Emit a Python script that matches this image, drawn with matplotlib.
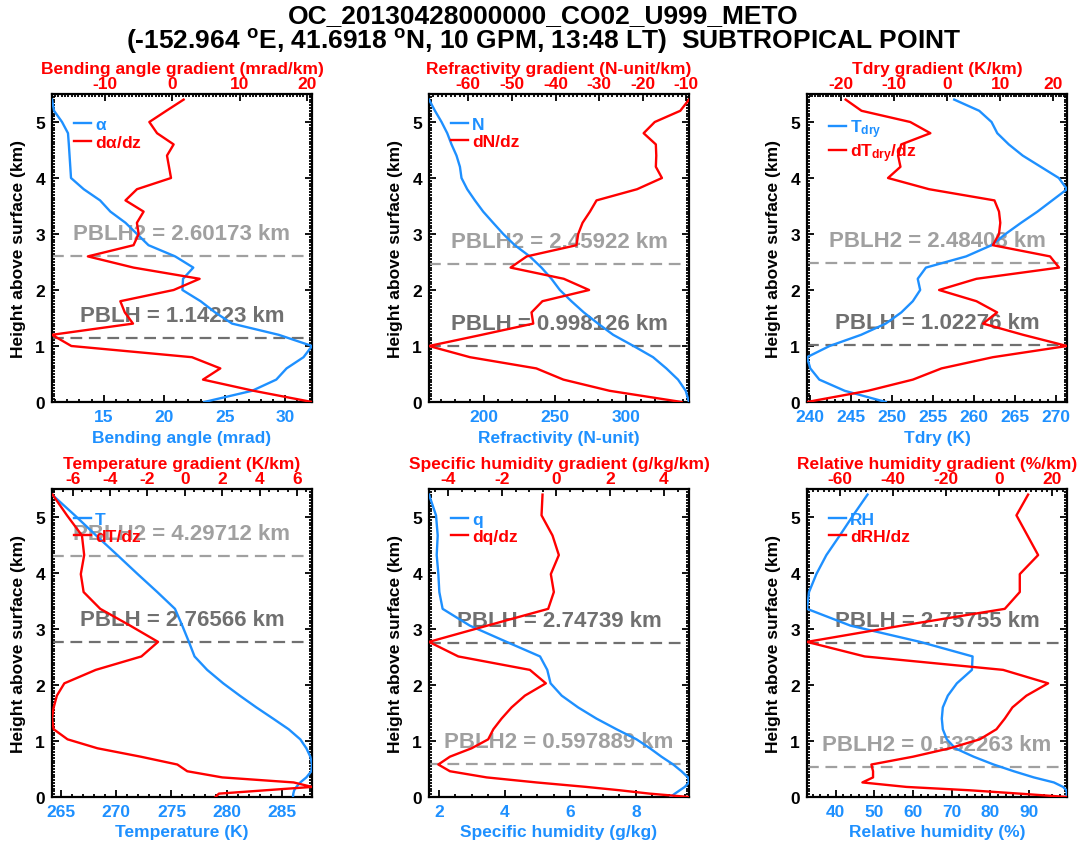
import numpy as np
import matplotlib
matplotlib.use("Agg")
import matplotlib.pyplot as plt
from matplotlib.ticker import MultipleLocator, AutoMinorLocator
import matplotlib.transforms as mtransforms

plt.rcParams['font.family'] = ['Liberation Sans', 'DejaVu Sans']
plt.rcParams['font.weight'] = 'bold'
plt.rcParams['axes.labelweight'] = 'bold'
plt.rcParams['axes.unicode_minus'] = False
plt.rcParams['mathtext.fontset'] = 'custom'
plt.rcParams['mathtext.rm'] = 'Liberation Sans:bold'
plt.rcParams['mathtext.bf'] = 'Liberation Sans:bold'
plt.rcParams['mathtext.it'] = 'Liberation Sans:bold'

BLUE = '#1E90FF'
RED = '#FF0000'
GRAY_PBLH = '#707070'
GRAY_PBLH2 = '#A0A0A0'

# ---------------- data ----------------
# regular 0.2 km grid used by the upper row (km above surface)
height_top = [5.4, 5.2, 5.0, 4.8, 4.6, 4.4, 4.2, 4.0, 3.8, 3.6, 3.4, 3.2, 3.0, 2.8,
              2.6, 2.4, 2.2, 2.0, 1.8, 1.6, 1.4, 1.2, 1.0, 0.8, 0.6, 0.4, 0.2, 0.0]
# model levels used by the lower row (km above surface)
height_bot = [5.40, 5.03, 4.67, 4.32, 3.98, 3.66, 3.36, 3.06, 2.77, 2.51, 2.27, 2.03,
              1.81, 1.60, 1.40, 1.21, 1.03, 0.87, 0.72, 0.58, 0.46, 0.35, 0.26, 0.18,
              0.12, 0.06, 0.0]

bending_angle = [10.73, 10.9, 11.56, 12.05, 12.12, 12.18, 12.24, 12.3, 13.35, 14.7,
                 15.55, 16.8, 17.75, 18.7, 20.9, 22.4, 21.55, 21.5, 23.0, 24.2, 25.6,
                 29.45, 32.2, 31.5, 30.1, 29.25, 27.25, 23.3]
bending_grad = [1.66, -0.92, -3.45, -2.3, 0.17, -0.82, -0.52, -0.22, -5.29, -7.0,
                -4.3, -5.3, -5.04, -5.8, -12.6, -5.8, 4.04, 0.17, -7.77, -7.1, -5.88,
                -17.94, -15.06, 2.9, 7.12, 4.54, 12.08, 20.77]

refractivity = [161.5, 165.7, 170.3, 174.3, 177.3, 180.8, 183.2, 184.3, 188.3, 193.7,
                199.5, 206.5, 213.6, 221.7, 232.2, 240.4, 247.4, 253.3, 261.4, 270.1,
                280.1, 290.7, 305.0, 318.7, 328.0, 336.2, 341.6, 343.9]
refractivity_grad = [-9.4, -11.4, -17.25, -19.8, -17.0, -16.9, -17.0, -15.6, -21.3,
                     -30.6, -32.1, -33.8, -34.8, -35.2, -46.6, -50.3, -38.1, -32.3,
                     -43.0, -45.5, -45.1, -56.9, -69.0, -59.6, -44.4, -38.2, -27.6,
                     -11.1]

tdry = [257.55, 260.6, 262.1, 262.8, 264.2, 265.9, 268.1, 270.3, 271.3, 269.5, 267.7,
        265.7, 263.8, 262.1, 259.0, 254.1, 253.1, 253.4, 252.5, 251.1, 249.2, 246.2,
        242.35, 239.6, 240.0, 241.1, 244.2, 249.2]
tdry_grad = [-19.2, -16.2, -7.0, -3.2, -8.7, -9.3, -8.85, -11.2, -3.45, 8.9, 9.76,
             10.0, 9.76, 8.6, 19.4, 21.1, 5.5, -1.56, 5.5, 9.4, 6.75, 14.3, 22.6, 8.6,
             -1.1, -6.5, -15.0, -26.5]

temperature = [264.2, 266.26, 268.19, 270.11, 271.95, 273.72, 275.32, 275.98, 276.58,
               277.09, 278.23, 279.68, 281.18, 282.68, 284.19, 285.60, 286.65, 287.20,
               287.56, 287.71, 287.65, 287.2, 286.65, 286.3, 286.1, 286.02, 285.99]
temperature_grad = [-7.07, -6.30, -5.50, -5.38, -5.56, -5.41, -4.52, -2.92, -1.43,
                    -2.32, -4.76, -6.44, -6.84, -7.01, -7.10, -7.01, -6.27, -4.67,
                    -2.36, -0.40, 0.13, 2.0, 5.82, 6.80, 4.31, 1.82, 1.64]

spec_hum = [1.695, 1.909, 1.96, 1.93, 1.98, 2.01, 2.11, 2.94, 4.06, 5.08, 5.30, 5.40,
            5.74, 6.24, 6.80, 7.41, 8.02, 8.43, 8.78, 9.14, 9.39, 9.59, 9.62, 9.49,
            9.34, 9.19, 9.06]
spec_hum_grad = [-0.506, -0.543, -0.136, 0.099, -0.198, -0.086, -0.296, -2.556, -4.716,
                 -3.63, -0.975, -0.383, -1.16, -1.654, -2.025, -2.33, -2.52, -3.136,
                 -3.94, -4.37, -3.94, -2.58, -0.728, 1.12, 2.36, 3.47, 4.926]

rel_hum = [48.23, 44.51, 41.04, 37.57, 34.97, 33.07, 32.55, 43.81, 61.84, 75.44, 75.27,
           71.37, 69.03, 67.73, 67.47, 67.73, 68.77, 70.94, 75.70, 80.90, 86.10, 91.30,
           96.50, 98.90, 99.75, 99.90, 99.75]
rel_hum_grad = [10.96, 6.56, 10.71, 14.73, 7.82, 7.82, 2.17, -36.64, -72.31, -50.58,
                1.54, 18.49, 10.33, 5.05, 2.17, -0.97, -7.25, -18.56, -32.37, -48.07,
                -47.44, -47.44, -51.46, -34.88, -11.02, 7.82, 25.6]

pblh = [1.14223, 0.998126, 1.02276, 2.76566, 2.74739, 2.75755]
pblh2 = [2.60173, 2.45922, 2.48408, 4.29712, 0.597889, 0.532263]

bottom_labels = ['Bending angle (mrad)', 'Refractivity (N-unit)', 'Tdry (K)',
                 'Temperature (K)', 'Specific humidity (g/kg)', 'Relative humidity (%)']
top_labels = ['Bending angle gradient (mrad/km)', 'Refractivity gradient (N-unit/km)',
              'Tdry gradient (K/km)', 'Temperature gradient (K/km)',
              'Specific humidity gradient (g/kg/km)', 'Relative humidity gradient (%/km)']
legend_profile = [r'$\alpha$', 'N', r'T$_{\mathrm{dry}}$', 'T', 'q', 'RH']
legend_grad = [r'd$\alpha$/dz', 'dN/dz', r'dT$_{\mathrm{dry}}$/dz', 'dT/dz', 'dq/dz',
               'dRH/dz']

title_line1 = 'OC_20130428000000_CO02_U999_METO'
title_line2 = r'(-152.964 $^{\mathrm{o}}$E, 41.6918 $^{\mathrm{o}}$N, 10 GPM, 13:48 LT)  SUBTROPICAL POINT'

# ---------------- layout ----------------
W, H = 1080, 845
fig = plt.figure(figsize=(W / 100, H / 100), dpi=100)

col_left = [52, 429, 807]
row_top = [95, 490]
ax_w, ax_h = 260, 308

profiles = [bending_angle, refractivity, tdry, temperature, spec_hum, rel_hum]
grads = [bending_grad, refractivity_grad, tdry_grad, temperature_grad, spec_hum_grad,
         rel_hum_grad]
heights = [height_top] * 3 + [height_bot] * 3
bot_major = [5, 50, 5, 5, 2, 10]
bot_minor = [5, 5, 5, 5, 4, 5]
top_major = [10, 10, 10, 2, 2, 20]
top_minor = [20, 10, 20, 4, 4, 10]

FS = 12.5
DASH = (0, (5.3, 3.0))

for i in range(6):
    r, c = divmod(i, 3)
    rect = [col_left[c] / W, 1 - (row_top[r] + ax_h) / H, ax_w / W, ax_h / H]
    ax = fig.add_axes(rect)
    h = np.array(heights[i])
    prof = np.array(profiles[i])
    grad = np.array(grads[i])

    # PBLH annotations sit under the curves
    trans = mtransforms.blended_transform_factory(ax.transAxes, ax.transData)
    ax.text(0.5, pblh[i] + 0.4, 'PBLH = %g km' % pblh[i], transform=trans,
            ha='center', va='center', color=GRAY_PBLH, fontsize=16,
            fontweight='bold', zorder=1)
    ax.text(0.5, pblh2[i] + 0.4, 'PBLH2 = %g km' % pblh2[i], transform=trans,
            ha='center', va='center', color=GRAY_PBLH2, fontsize=16,
            fontweight='bold', zorder=1)
    ax.axhline(pblh[i], color=GRAY_PBLH, lw=1.6, ls=DASH, zorder=2)
    ax.axhline(pblh2[i], color=GRAY_PBLH2, lw=1.6, ls=DASH, zorder=2)

    lp, = ax.plot(prof, h, color=BLUE, lw=1.7, zorder=3)
    ax.set_xlim(prof.min(), prof.max())
    ax.set_ylim(0, 5.5)

    ax.xaxis.set_major_locator(MultipleLocator(bot_major[i]))
    ax.xaxis.set_minor_locator(AutoMinorLocator(bot_minor[i]))
    ax.yaxis.set_major_locator(MultipleLocator(1))
    ax.yaxis.set_minor_locator(AutoMinorLocator(20))
    ax.tick_params(which='both', direction='in', top=False, right=True,
                   left=True, bottom=True, width=1.3, labelsize=FS)
    ax.tick_params(which='major', length=5)
    ax.tick_params(which='minor', length=2.5)
    ax.tick_params(axis='x', colors='black', labelcolor=BLUE, pad=5)
    ax.tick_params(axis='y', pad=5)
    for lab in ax.get_xticklabels() + ax.get_yticklabels():
        lab.set_fontweight('bold')
    for s in ax.spines.values():
        s.set_linewidth(1.6)
    ax.set_xlabel(bottom_labels[i], color=BLUE, fontsize=FS, fontweight='bold',
                  labelpad=4)
    ax.set_ylabel('Height above surface (km)', fontsize=FS, fontweight='bold',
                  labelpad=7)

    ax2 = ax.twiny()
    lg, = ax2.plot(grad, h, color=RED, lw=1.7, zorder=3)
    ax2.set_xlim(grad.min(), grad.max())
    ax2.xaxis.set_major_locator(MultipleLocator(top_major[i]))
    ax2.xaxis.set_minor_locator(AutoMinorLocator(top_minor[i]))
    ax2.tick_params(which='both', direction='in', width=1.3, labelsize=FS,
                    labelcolor=RED, pad=2.5)
    ax2.tick_params(which='major', length=5)
    ax2.tick_params(which='minor', length=2.5)
    for lab in ax2.get_xticklabels():
        lab.set_fontweight('bold')
    for s in ax2.spines.values():
        s.set_visible(False)
    ax2.set_xlabel(top_labels[i], color=RED, fontsize=FS, fontweight='bold',
                   labelpad=2)

    lp.set_label(legend_profile[i])
    lg.set_label(legend_grad[i])
    leg = ax2.legend(handles=[lp, lg], loc='upper left', bbox_to_anchor=(0.085, 0.925),
                     frameon=False, handlelength=0.95, handletextpad=0.25,
                     labelspacing=0.08, borderpad=0, borderaxespad=0,
                     prop={'weight': 'bold', 'size': FS})
    for txt, ln in zip(leg.get_texts(), [lp, lg]):
        txt.set_color(ln.get_color())

fig.text(0.503, 1 - 16 / H, title_line1, ha='center', va='center', fontsize=19,
         fontweight='bold')
fig.text(0.503, 1 - 42 / H, title_line2, ha='center', va='center', fontsize=19,
         fontweight='bold')

fig.savefig('out.png', dpi=100)
